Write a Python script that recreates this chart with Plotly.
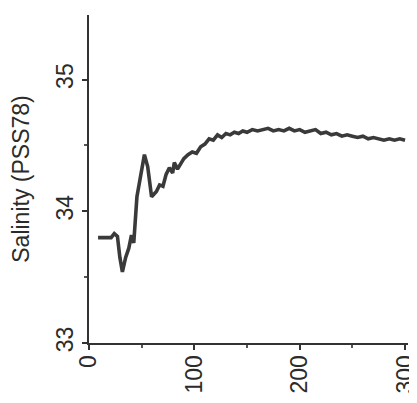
import plotly.graph_objects as go

depth = [8.6, 14, 21, 24, 27, 29.3, 31.7, 34.8, 37.8, 40.3, 42.5, 45.5, 48.6, 52.6, 55.7, 59.4,
         64, 67, 70.2, 73.2, 76.3, 79.4, 81, 84, 87,
         90, 94, 98, 102, 106, 110, 114, 118, 122, 126, 130, 134, 138, 142, 146, 150,
         155, 160, 165, 170, 175, 180, 185, 190, 195, 200, 205, 210, 215, 220, 225, 230,
         235, 240, 245, 250, 255, 260, 265, 270, 275, 280, 285, 290, 295, 300]
salinity = [33.80, 33.80, 33.80, 33.83, 33.81, 33.65, 33.54, 33.65, 33.72, 33.82, 33.76, 34.11, 34.24, 34.43, 34.34, 34.11,
            34.15, 34.20, 34.19, 34.28, 34.33, 34.29, 34.37, 34.32, 34.36,
            34.40, 34.43, 34.45, 34.44, 34.49, 34.51, 34.55, 34.54, 34.58, 34.56, 34.59, 34.58, 34.60, 34.59, 34.61, 34.60,
            34.62, 34.61, 34.62, 34.63, 34.61, 34.62, 34.61, 34.63, 34.61, 34.62, 34.60, 34.61, 34.62, 34.59, 34.60, 34.58,
            34.59, 34.57, 34.58, 34.57, 34.56, 34.57, 34.55, 34.56, 34.55, 34.54, 34.55, 34.54, 34.55, 34.54]

x_ticks = [0, 100, 200, 300]
y_ticks = [33, 34, 35]

fig = go.Figure(go.Scatter(x=depth, y=salinity, mode="lines",
                           line=dict(color="#3a3a3a", width=3.6), showlegend=False))

font = dict(family="Liberation Sans, Arial, sans-serif", size=23, color="#2b2b2b")

fig.update_layout(
    width=409, height=395,
    margin=dict(l=81, r=0, t=7, b=60),
    paper_bgcolor="white", plot_bgcolor="white",
    font=font,
    xaxis=dict(range=[0, 302.8], tickvals=x_ticks, ticktext=[str(v) for v in x_ticks],
               tickangle=-90, showgrid=False, zeroline=False,
               showline=True, linecolor="#333333", linewidth=2,
               ticks="outside", ticklen=5, tickwidth=1.5, tickcolor="#333333",
               minor=dict(dtick=50, ticks="outside", ticklen=3, tickcolor="#555555"),
               tickfont=font, ticklabeloverflow="allow", ticklabelstandoff=-4),
    yaxis=dict(range=[33, 35.49], tickvals=y_ticks, ticktext=[str(v) for v in y_ticks],
               tickangle=-90, showgrid=False, zeroline=False,
               showline=True, linecolor="#333333", linewidth=2,
               ticks="outside", ticklen=5, tickwidth=1.5, tickcolor="#333333",
               minor=dict(dtick=0.5, ticks="outside", ticklen=3, tickcolor="#555555"),
               tickfont=font, ticklabeloverflow="allow",
               title=dict(text="Salinity (PSS78)", font=font, standoff=16)),
)

fig.write_html("out.html")
